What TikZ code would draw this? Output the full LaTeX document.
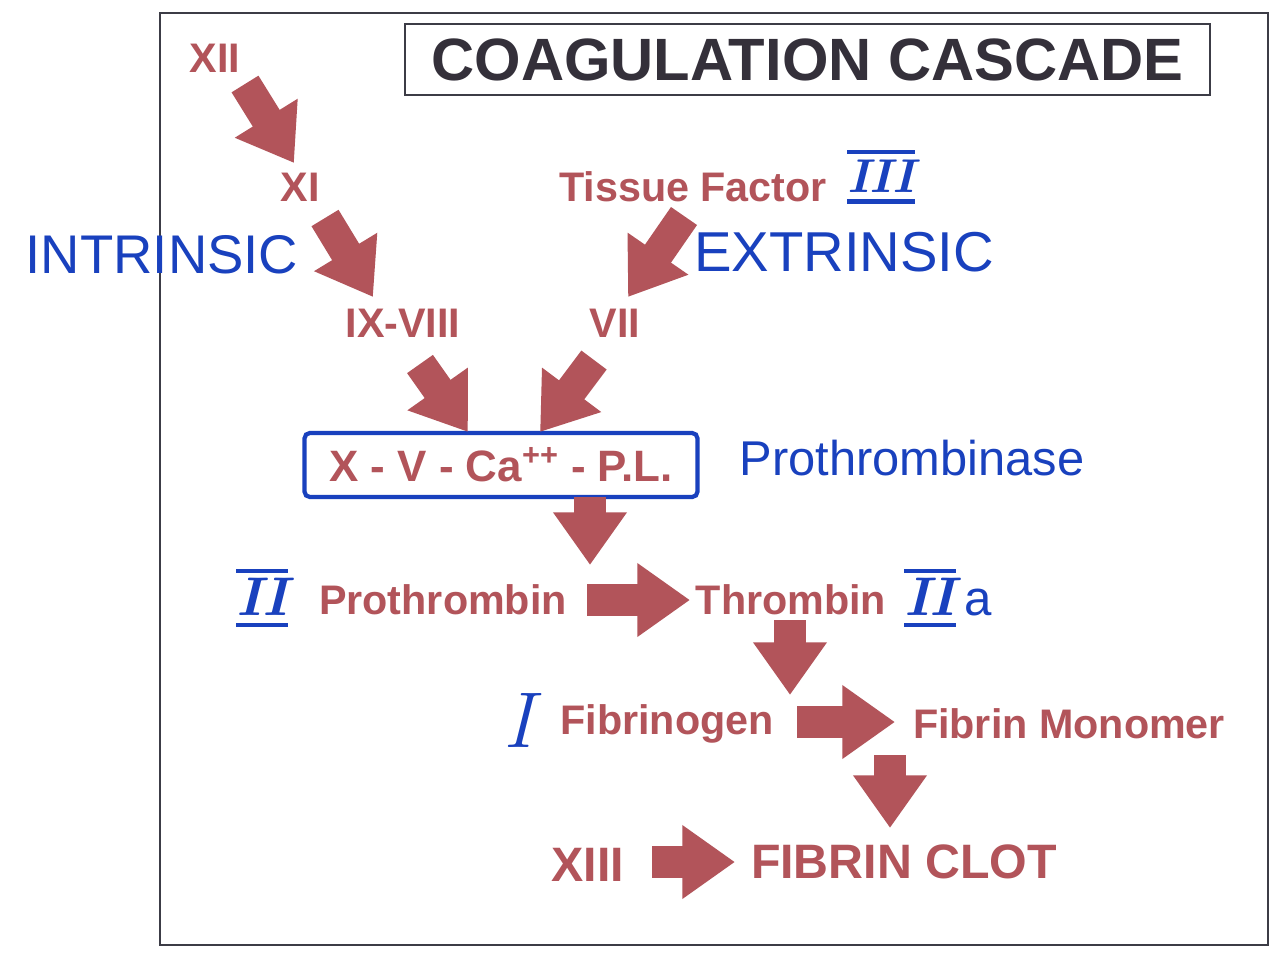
\documentclass[tikz,border=0pt]{standalone}
\usepackage{fontspec}
\newfontfamily\arial{Liberation Sans}
\usetikzlibrary{arrows.meta}
\definecolor{brick}{RGB}{178,84,90}
\definecolor{ink}{RGB}{25,65,190}
\definecolor{titlec}{RGB}{52,48,58}
\definecolor{framec}{RGB}{60,60,70}
\newdimen\barw
\newcommand\barred[1]{\setbox0=\hbox{#1}\barw=\wd0\relax
  \lower6.6pt\vbox{\hrule height 2.4pt width \barw\kern3pt\box0\kern4pt\hrule height 2.6pt width \barw}}
\tikzset{
  lab/.style={text=brick, font=\arial\bfseries\fontsize{23.5}{28}\selectfont, inner sep=0pt},
  big/.style={text=brick, font=\arial\bfseries\fontsize{27.5}{32}\selectfont, inner sep=0pt},
  hw/.style={text=ink, font=\arial\fontsize{31}{36}\selectfont, inner sep=0pt},
  roman/.style={text=ink, font=\bfseries\itshape\fontsize{31}{36}\selectfont, inner sep=0pt},
  blk/.style={draw=brick, line width=18pt, -{Triangle[length=30pt,width=40pt]}},
  frame/.style={draw=framec, line width=1.3pt},
}
\begin{document}
\begin{tikzpicture}[x=0.02cm,y=-0.02cm]
\useasboundingbox[fill=white] (0,0) rectangle (1287,965);
\draw[frame] (160,13) rectangle (1268,945);
\node[draw=framec, line width=1.6pt, minimum width=16.1cm, minimum height=1.42cm, text=titlec,
      font=\arial\bfseries\fontsize{34}{40}\selectfont, inner sep=0pt] (title) at (807.5,59.5) {COAGULATION CASCADE};

% factors
\node[lab] (XII) at (215,58) {XII};
\node[lab] (XI) at (300,187) {XI};
\node[lab] (IXVIII) at (403,323) {IX-VIII};
\node[lab] (VII) at (615,323) {VII};
\node[lab] (TF) at (693,187) {Tissue Factor};
\node[roman, font=\bfseries\itshape\fontsize{27}{32}\selectfont] (III) at (881,177) {\barred{III}};
\node[hw] (intr) at (162,255) {INTRINSIC};
\node[hw, font=\arial\fontsize{32}{37}\selectfont] (extr) at (844,252) {EXTRINSIC};

\node[draw=ink, line width=2.4pt, rounded corners=3pt, minimum width=7.86cm, minimum height=1.28cm,
      text=brick, font=\arial\bfseries\fontsize{25}{30}\selectfont, inner sep=0pt] (box) at (501,465)
      {X - V - Ca\textsuperscript{++} - P.L.};
\node[hw, font=\arial\fontsize{27.8}{32}\selectfont] (prase) at (912,458) {Prothrombinase};

\node[roman] (II) at (262,598) {\barred{II}};
\node[lab] (pro) at (443,600) {Prothrombin};
\node[lab] (thr) at (791,600) {Thrombin};
\node[roman] (IIa) at (948,598) {\barred{II}\,{\arial\mdseries\upshape\fontsize{28}{32}\selectfont a}};

\node[roman, font=\itshape\fontsize{45}{50}\selectfont] (I) at (518,720) {I};
\node[lab] (fgn) at (667,724) {Fibrinogen};
\node[lab] (fmon) at (1069,724) {Fibrin Monomer};

\node[big] (XIII) at (588,865) {XIII};
\node[big] (clot) at (904,862) {FIBRIN CLOT};

% arrow end points
\coordinate (a1s) at (245,84);  \coordinate (a1e) at (294,163);
\coordinate (a2s) at (325,218); \coordinate (a2e) at (373,297);
\coordinate (a3s) at (684,216); \coordinate (a3e) at (628,297);
\coordinate (a4s) at (420,364); \coordinate (a4e) at (468,432);
\coordinate (a5s) at (594,360); \coordinate (a5e) at (540,432);
\coordinate (a6s) at (590,497); \coordinate (a6e) at (590,565);
\coordinate (a7s) at (587,600); \coordinate (a7e) at (690,600);
\coordinate (a8s) at (790,620); \coordinate (a8e) at (790,695);
\coordinate (a9s) at (797,722); \coordinate (a9e) at (895,722);
\coordinate (a10s) at (890,755); \coordinate (a10e) at (890,828);
\coordinate (a11s) at (652,862); \coordinate (a11e) at (735,862);

\draw[blk] (a1s) -- (a1e);
\draw[blk] (a2s) -- (a2e);
\draw[blk] (a3s) -- (a3e);
\draw[blk] (a4s) -- (a4e);
\draw[blk] (a5s) -- (a5e);
\draw[blk] (a6s) -- (a6e);
\draw[blk] (a7s) -- (a7e);
\draw[blk] (a8s) -- (a8e);
\draw[blk] (a9s) -- (a9e);
\draw[blk] (a10s) -- (a10e);
\draw[blk] (a11s) -- (a11e);
\end{tikzpicture}
\end{document}
